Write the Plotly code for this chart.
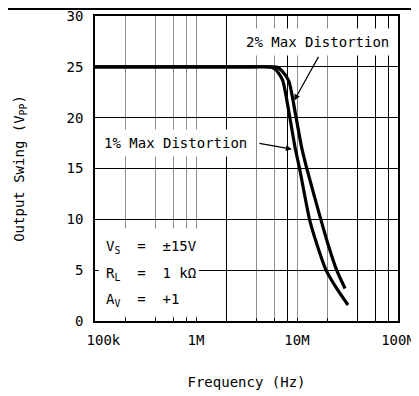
import math
import plotly.graph_objects as go

# ---- data (frequency in Hz, output swing in Vpp) ----
freq_1pct = [1e5, 1e6, 3e6, 5.0e6, 5.6e6, 6.2e6, 7.2e6, 8.5e6, 9.55e6, 10.6e6, 13.3e6, 15.8e6, 19.4e6, 24.7e6, 32e6]
vpp_1pct = [25, 25, 25, 25, 24.95, 24.7, 23.7, 20, 17.1, 15, 10, 7.5, 5, 3.2, 1.57]

freq_2pct = [1e5, 1e6, 3e6, 5.8e6, 6.4e6, 7.1e6, 8.3e6, 9.8e6, 11.1e6, 12.5e6, 17.2e6, 20.5e6, 24.7e6, 29.9e6]
vpp_2pct = [25, 25, 25, 25, 24.95, 24.6, 23.6, 20, 17.1, 15, 10, 7.4, 5, 3.2]

x_label_vals = [1e5, 1e6, 1e7, 1e8]
x_label_text = ["\u00a0\u00a0100k", "1M", "10M", "100M"]
x_gray_grid = [2e5, 4e5, 6e5, 8e5, 1e6, 4e6, 6e6, 1e7, 2e7]
x_black_grid = [2e6, 8e6, 4e7, 6e7, 8e7]
y_ticks = [0, 5, 10, 15, 20, 25, 30]

FONT = "DejaVu Sans Mono"
FS = 14

fig = go.Figure()
for fx, vy in [(freq_1pct, vpp_1pct), (freq_2pct, vpp_2pct)]:
    fig.add_trace(go.Scatter(x=fx, y=vy, mode="lines",
                             line=dict(color="black", width=3.2, shape="spline", smoothing=0.6),
                             showlegend=False, hoverinfo="skip"))

major_vals = sorted(set(x_label_vals + x_gray_grid))
major_text = [x_label_text[x_label_vals.index(v)] if v in x_label_vals else "" for v in major_vals]

fig.update_xaxes(type="log", range=[5, 8], tickmode="array", tickvals=major_vals, ticktext=major_text,
                 showgrid=True, gridcolor="#8c8c8c", gridwidth=1,
                 ticks="inside", ticklen=3, tickcolor="black", automargin=False, ticklabeloverflow="allow",
                 ticklabelstandoff=5,
                 minor=dict(tickmode="array", tickvals=x_black_grid, showgrid=True,
                            gridcolor="black", gridwidth=1, ticks=""),
                 showline=True, linecolor="black", linewidth=1.5, mirror=True,
                 zeroline=False, tickfont=dict(family=FONT, size=FS, color="black"),
                 title=dict(text="Frequency (Hz)", font=dict(family=FONT, size=FS, color="black"), standoff=31))
fig.update_yaxes(range=[0, 30], tickmode="array", tickvals=y_ticks,
                 showgrid=True, gridcolor="black", gridwidth=1,
                 ticks="inside", ticklen=3, tickcolor="black", ticklabelstandoff=7, automargin=False,
                 ticklabeloverflow="allow",
                 showline=True, linecolor="black", linewidth=1.5, mirror=True,
                 zeroline=False, tickfont=dict(family=FONT, size=FS, color="black"),
                 title=dict(text="Output Swing (V<sub>PP</sub>)", font=dict(family=FONT, size=FS, color="black"), standoff=39))

# white box behind the conditions text
fig.add_shape(type="rect", xref="x domain", yref="y domain", x0=0.012, x1=0.343, y0=0.016, y1=0.303,
              fillcolor="white", line=dict(width=0), layer="above")
# page rule at top
fig.add_shape(type="line", xref="paper", yref="paper", x0=-87/303, x1=324/303, y0=312/305, y1=312/305,
              line=dict(color="black", width=2))

afont = dict(family=FONT, size=FS, color="black")
fig.add_annotation(x=math.log10(1.6e7), y=27.45, text="2% Max Distortion", showarrow=False,
                   font=afont, bgcolor="white", borderpad=5)
fig.add_annotation(x=math.log10(6.2e5), y=17.5, text="1% Max Distortion", showarrow=False,
                   font=afont, bgcolor="white", borderpad=5)
fig.add_annotation(x=math.log10(9.4e6), y=21.7, text="", showarrow=True, ax=25, ay=-45,
                   arrowhead=2, arrowsize=1, arrowwidth=1.2, arrowcolor="black")
fig.add_annotation(x=math.log10(8.9e6), y=16.9, text="", showarrow=True, ax=-34, ay=-6,
                   arrowhead=2, arrowsize=1, arrowwidth=1.2, arrowcolor="black")

cond_lines = ["V<sub>S</sub>  =  \u00b115V", "R<sub>L</sub>  =  1 k\u03a9", "A<sub>V</sub>  =  +1"]
cond_y = [0.243, 0.154, 0.069]
for t, yy in zip(cond_lines, cond_y):
    fig.add_annotation(xref="x domain", yref="y domain", x=0.03, y=yy, text=t, showarrow=False,
                       xanchor="left", yanchor="middle", font=afont)

# page body has an 8px margin, so the figure is sized/offset to land on the reference pixels
fig.update_layout(width=411, height=388, margin=dict(l=87, r=21, t=8, b=75),
                  paper_bgcolor="white", plot_bgcolor="white")
fig.write_html("out.html")
